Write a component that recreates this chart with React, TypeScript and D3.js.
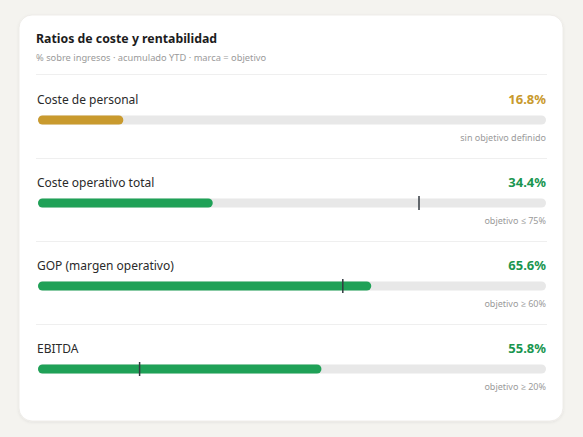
import React from "react";
import * as d3 from "d3";

const metrics = ["Coste de personal", "Coste operativo total", "GOP (margen operativo)", "EBITDA"];
const values = [16.8, 34.4, 65.6, 55.8];
const targets: (number | null)[] = [null, 75, 60, 20];
const notes = ["sin objetivo definido", "objetivo ≤ 75%", "objetivo ≥ 60%", "objetivo ≥ 20%"];
const barColors = ["#c99a2e", "#1fa157", "#1fa157", "#1fa157"];
const valueColors = ["#c99a2e", "#1a9650", "#1a9650", "#1a9650"];

const W = 583;
const H = 437;
const FONT = "'Noto Sans', 'Open Sans', sans-serif";

export default function App() {
  const x = d3.scaleLinear().domain([0, 100]).range([38, 546]);
  const rowY = d3.scaleLinear().domain([0, 1]).range([0, 83]);
  const barH = 9;

  return (
    <div style={{ position: "fixed", left: 0, top: 0, width: W, height: H, background: "#f4f3ef" }}>
      <svg width={W} height={H} style={{ display: "block" }}>
        <defs>
          <filter id="sh" x="-10%" y="-10%" width="120%" height="120%">
            <feDropShadow dx="0" dy="1" stdDeviation="1.5" floodColor="#000" floodOpacity="0.07" />
          </filter>
        </defs>
        <rect x={19} y={15} width={544} height={406} rx={13} fill="#ffffff" stroke="#ebe9e4" strokeWidth={0.8} filter="url(#sh)" />
        <text x={36} y={43} fontFamily={FONT} fontSize={12.3} fontWeight={700} fill="#1c1c1c">
          Ratios de coste y rentabilidad
        </text>
        <text x={36} y={61} fontFamily={FONT} fontSize={9.3} fill="#9a9a9a">
          % sobre ingresos · acumulado YTD · marca = objetivo
        </text>
        <line x1={36} x2={547} y1={74.5} y2={74.5} stroke="#efefef" strokeWidth={1} />
        {metrics.map((m, i) => {
          const oy = rowY(i);
          const cy = 120 + oy;
          const t = targets[i];
          return (
            <g key={m}>
              <text x={37} y={104 + oy} fontFamily={FONT} fontSize={12} fill="#2a2a2a">
                {m}
              </text>
              <text x={546} y={104 + oy} textAnchor="end" fontFamily={FONT} fontSize={13} fontWeight={700} fill={valueColors[i]}>
                {d3.format(".1f")(values[i])}%
              </text>
              <rect x={x(0)} y={cy - barH / 2} width={x(100) - x(0)} height={barH} rx={barH / 2} fill="#e8e8e8" />
              <rect x={x(0)} y={cy - barH / 2} width={x(values[i]) - x(0)} height={barH} rx={barH / 2} fill={barColors[i]} />
              {t !== null && (
                <line x1={x(t)} x2={x(t)} y1={cy - 7} y2={cy + 7} stroke="#333a40" strokeWidth={1.5} />
              )}
              <text x={546} y={141 + oy} textAnchor="end" fontFamily={FONT} fontSize={9} fill="#9a9a9a">
                {notes[i]}
              </text>
              {i < metrics.length - 1 && (
                <line x1={36} x2={547} y1={158.5 + oy} y2={158.5 + oy} stroke="#efefef" strokeWidth={1} />
              )}
            </g>
          );
        })}
      </svg>
    </div>
  );
}
